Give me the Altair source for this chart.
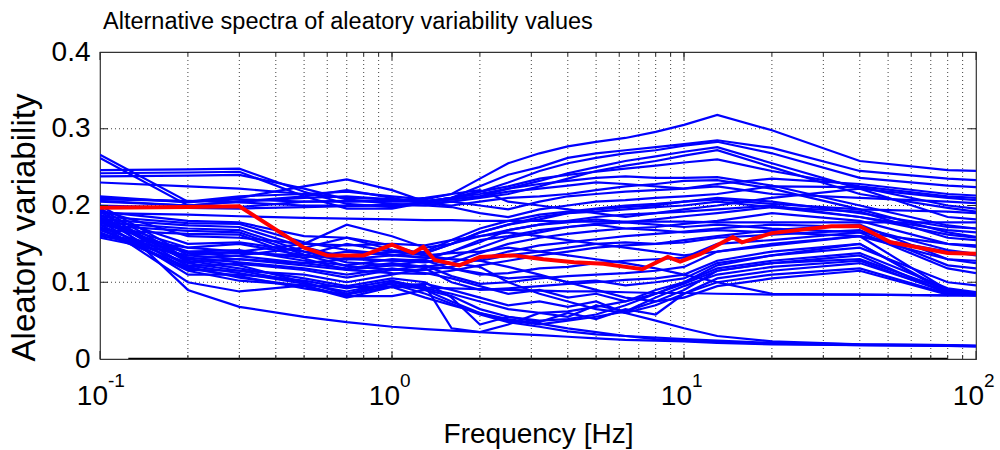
import altair as alt
import pandas as pd

FONT = "Liberation Sans"

# Frequency grid shared by the blue spectra [Hz]
FREQ = [0.1, 0.2, 0.3, 0.5, 0.7, 1.0, 1.3, 1.6, 2.0, 2.5, 3.2, 4.0, 5.0, 6.3, 8.0, 10, 13, 20, 40, 80, 100]

S01 = [0.266,0.205,0.212,0.215,0.218,0.212,0.208,0.215,0.235,0.255,0.268,0.277,0.283,0.288,0.296,0.305,0.318,0.298,0.258,0.246,0.245]
S02 = [0.262,0.200,0.205,0.210,0.212,0.208,0.205,0.210,0.225,0.240,0.250,0.262,0.268,0.272,0.276,0.280,0.285,0.275,0.245,0.235,0.233]
S03 = [0.246,0.247,0.248,0.218,0.202,0.198,0.205,0.210,0.218,0.230,0.245,0.255,0.262,0.268,0.272,0.278,0.283,0.268,0.236,0.226,0.224]
S04 = [0.242,0.243,0.244,0.212,0.196,0.196,0.204,0.208,0.212,0.222,0.232,0.242,0.250,0.258,0.264,0.270,0.276,0.255,0.222,0.210,0.207]
S05 = [0.238,0.239,0.240,0.222,0.208,0.202,0.200,0.205,0.210,0.215,0.225,0.235,0.245,0.252,0.258,0.265,0.272,0.250,0.215,0.197,0.192]
S06 = [0.212,0.204,0.210,0.225,0.234,0.220,0.205,0.210,0.215,0.222,0.228,0.232,0.236,0.238,0.236,0.236,0.237,0.226,0.200,0.174,0.170]
S07 = [0.206,0.200,0.205,0.212,0.220,0.210,0.202,0.200,0.205,0.210,0.212,0.215,0.220,0.225,0.228,0.232,0.233,0.222,0.195,0.165,0.159]
S08 = [0.190,0.188,0.186,0.184,0.183,0.182,0.181,0.181,0.180,0.180,0.180,0.179,0.179,0.179,0.179,0.179,0.178,0.178,0.178,0.178,0.178]
S09 = [0.208,0.206,0.204,0.200,0.200,0.201,0.203,0.205,0.200,0.195,0.205,0.212,0.215,0.218,0.220,0.222,0.228,0.235,0.228,0.215,0.213]
S10 = [0.200,0.197,0.196,0.198,0.199,0.200,0.200,0.198,0.190,0.185,0.195,0.200,0.205,0.207,0.210,0.212,0.215,0.225,0.224,0.200,0.196]
S11 = [0.192,0.180,0.178,0.160,0.158,0.142,0.138,0.150,0.165,0.175,0.182,0.190,0.195,0.198,0.200,0.205,0.210,0.205,0.190,0.172,0.170]
S12 = [0.186,0.177,0.176,0.152,0.142,0.136,0.132,0.140,0.152,0.168,0.175,0.180,0.185,0.188,0.190,0.192,0.195,0.200,0.185,0.162,0.158]
S13 = [0.182,0.174,0.172,0.146,0.132,0.128,0.126,0.132,0.145,0.158,0.165,0.172,0.176,0.178,0.182,0.186,0.190,0.198,0.192,0.158,0.155]
S14 = [0.178,0.170,0.168,0.140,0.126,0.122,0.120,0.125,0.138,0.150,0.158,0.163,0.167,0.170,0.172,0.176,0.180,0.190,0.180,0.150,0.146]
S15 = [0.174,0.167,0.165,0.136,0.121,0.116,0.116,0.120,0.130,0.140,0.148,0.152,0.156,0.160,0.163,0.166,0.170,0.175,0.172,0.142,0.137]
S16 = [0.168,0.163,0.162,0.131,0.116,0.112,0.111,0.115,0.122,0.128,0.135,0.140,0.145,0.148,0.150,0.155,0.160,0.168,0.175,0.130,0.125]
S17 = [0.200,0.135,0.140,0.150,0.175,0.160,0.145,0.150,0.160,0.168,0.175,0.178,0.182,0.178,0.175,0.172,0.175,0.170,0.165,0.150,0.148]
S18 = [0.196,0.130,0.135,0.145,0.158,0.148,0.135,0.130,0.128,0.135,0.140,0.145,0.150,0.152,0.150,0.152,0.158,0.162,0.168,0.122,0.118]
S19 = [0.192,0.126,0.130,0.122,0.116,0.122,0.128,0.118,0.110,0.112,0.118,0.120,0.125,0.128,0.130,0.132,0.150,0.155,0.165,0.118,0.112]
S20 = [0.188,0.121,0.124,0.116,0.106,0.116,0.122,0.108,0.098,0.100,0.105,0.108,0.110,0.112,0.115,0.120,0.140,0.148,0.160,0.090,0.086]
S21 = [0.184,0.116,0.115,0.110,0.100,0.110,0.118,0.100,0.090,0.092,0.095,0.098,0.100,0.103,0.105,0.110,0.128,0.140,0.150,0.086,0.084]
S22 = [0.180,0.110,0.110,0.102,0.092,0.102,0.092,0.085,0.075,0.065,0.060,0.062,0.068,0.075,0.085,0.100,0.122,0.135,0.150,0.088,0.085]
S23 = [0.176,0.100,0.088,0.096,0.082,0.082,0.090,0.082,0.065,0.055,0.050,0.052,0.058,0.070,0.085,0.098,0.115,0.125,0.135,0.085,0.084]
S24 = [0.198,0.090,0.068,0.055,0.048,0.042,0.039,0.037,0.035,0.033,0.031,0.029,0.027,0.025,0.024,0.023,0.021,0.019,0.018,0.017,0.016]
S25 = [0.170,0.115,0.102,0.096,0.094,0.094,0.093,0.092,0.091,0.090,0.089,0.088,0.088,0.087,0.086,0.086,0.085,0.084,0.084,0.083,0.083]
S26 = [0.172,0.130,0.122,0.100,0.085,0.100,0.090,0.075,0.060,0.050,0.045,0.050,0.055,0.062,0.075,0.090,0.115,0.125,0.130,0.090,0.085]
S27 = [0.168,0.125,0.115,0.100,0.085,0.098,0.085,0.072,0.058,0.048,0.042,0.036,0.032,0.030,0.028,0.026,0.024,0.021,0.019,0.018,0.017]
S28 = [0.165,0.120,0.106,0.095,0.080,0.094,0.080,0.070,0.060,0.052,0.046,0.040,0.035,0.030,0.026,0.024,0.022,0.020,0.018,0.017,0.017]
S29 = [0.178,0.140,0.142,0.128,0.122,0.130,0.128,0.125,0.120,0.100,0.085,0.075,0.065,0.060,0.070,0.085,0.100,0.110,0.118,0.085,0.083]
S30 = [0.180,0.145,0.150,0.135,0.130,0.135,0.132,0.130,0.128,0.120,0.110,0.100,0.090,0.080,0.075,0.080,0.095,0.105,0.115,0.084,0.083]
S31 = [0.205,0.200,0.198,0.205,0.206,0.205,0.205,0.210,0.218,0.225,0.235,0.240,0.244,0.248,0.252,0.256,0.260,0.245,0.225,0.212,0.210]
S32 = [0.230,0.225,0.222,0.215,0.210,0.208,0.206,0.208,0.212,0.218,0.222,0.226,0.230,0.228,0.225,0.222,0.225,0.215,0.210,0.205,0.203]
S33 = [0.160,0.140,0.138,0.135,0.150,0.140,0.138,0.150,0.165,0.175,0.185,0.190,0.192,0.195,0.198,0.200,0.205,0.198,0.185,0.168,0.165]
S34 = [0.162,0.145,0.140,0.132,0.140,0.135,0.140,0.155,0.170,0.180,0.188,0.192,0.196,0.200,0.202,0.205,0.208,0.202,0.195,0.192,0.190]
S35 = [0.158,0.135,0.130,0.125,0.130,0.128,0.130,0.140,0.155,0.160,0.168,0.172,0.175,0.170,0.168,0.165,0.168,0.165,0.160,0.140,0.135]
S36 = [0.185,0.128,0.118,0.105,0.095,0.105,0.100,0.080,0.045,0.055,0.048,0.060,0.052,0.065,0.058,0.085,0.105,0.115,0.125,0.088,0.085]
S37 = [0.175,0.122,0.112,0.098,0.088,0.100,0.095,0.040,0.035,0.045,0.060,0.055,0.070,0.062,0.080,0.095,0.110,0.120,0.128,0.086,0.084]
S38 = [0.170,0.118,0.108,0.092,0.084,0.095,0.098,0.090,0.080,0.070,0.075,0.068,0.075,0.060,0.050,0.040,0.030,0.023,0.019,0.018,0.017]
S39 = [0.182,0.132,0.126,0.118,0.110,0.118,0.112,0.105,0.095,0.085,0.090,0.080,0.085,0.075,0.090,0.100,0.118,0.128,0.138,0.092,0.087]
S40 = [0.178,0.138,0.134,0.125,0.118,0.125,0.120,0.118,0.112,0.105,0.108,0.100,0.102,0.096,0.100,0.105,0.125,0.135,0.145,0.100,0.096]
S41 = [0.188,0.150,0.152,0.140,0.135,0.140,0.135,0.138,0.140,0.145,0.140,0.135,0.130,0.125,0.118,0.110,0.100,0.085,0.084,0.083,0.083]
S42 = [0.194,0.160,0.158,0.150,0.148,0.150,0.148,0.155,0.160,0.165,0.160,0.155,0.150,0.145,0.140,0.135,0.140,0.150,0.160,0.130,0.128]
S43 = [0.210,0.205,0.208,0.205,0.205,0.206,0.210,0.215,0.220,0.205,0.200,0.195,0.190,0.185,0.190,0.195,0.200,0.210,0.222,0.185,0.182]

BLUE_SERIES = [S01, S02, S03, S04, S05, S06, S07, S08, S09, S10, S11, S12, S13, S14, S15,
               S16, S17, S18, S19, S20, S21, S22, S23, S24, S25, S26, S27, S28, S29, S30,
               S31, S32, S33, S34, S35, S36, S37, S38, S39, S40, S41, S42, S43]

# Highlighted (red) spectrum
RED_FREQ = [0.1, 0.2, 0.3, 0.5, 0.6, 0.8, 1.0, 1.18, 1.28, 1.4, 1.7, 2.0, 2.6, 3.3, 4.2, 5.3,
            7.2, 8.8, 9.7, 11.4, 14.7, 15.8, 20, 32, 40, 51, 80, 100]
RED_VALS = [0.197, 0.198, 0.199, 0.145, 0.135, 0.135, 0.149, 0.138, 0.146, 0.129, 0.122, 0.133,
            0.135, 0.130, 0.126, 0.124, 0.117, 0.133, 0.127, 0.137, 0.159, 0.152, 0.164, 0.173,
            0.173, 0.152, 0.138, 0.137]

# Zero line (black) along the bottom
ZERO_FREQ = [0.125, 80]
ZERO_VALS = [0.0, 0.0]

# Axis / grid positions
GRID_X = [0.2, 0.3, 0.4, 0.5, 0.6, 0.7, 0.8, 0.9, 1, 2, 3, 4, 5, 6, 7, 8, 9, 10,
          20, 30, 40, 50, 60, 70, 80, 90]
MAJOR_X = [0.1, 1, 10, 100]
MAJOR_EXP = ["-1", "0", "1", "2"]
GRID_Y = [0.1, 0.2, 0.3]
Y_TICKS = [0, 0.1, 0.2, 0.3, 0.4]
TITLE = "Alternative spectra of aleatory variability values"

W, H = 876, 307

blue_rows = []
for i, s in enumerate(BLUE_SERIES):
    for f, v in zip(FREQ, s):
        blue_rows.append({"series": f"s{i+1:02d}", "f": f, "v": v})
blue_df = pd.DataFrame(blue_rows)
red_df = pd.DataFrame({"f": RED_FREQ, "v": RED_VALS})
zero_df = pd.DataFrame({"f": ZERO_FREQ, "v": ZERO_VALS})

xs = alt.Scale(type="log", domain=[0.1, 100], nice=False)
ys = alt.Scale(domain=[0, 0.4], nice=False, zero=False)

x_axis = alt.Axis(values=MAJOR_X, labels=False, ticks=False, domain=False, grid=False,
                  title="Frequency [Hz]", titleFont=FONT, titleFontSize=28,
                  titleFontWeight="normal", titleColor="black",
                  titleX=438, titleY=83, titleAlign="center", titleBaseline="alphabetic")
y_axis = alt.Axis(values=Y_TICKS,
                  labelExpr="datum.value == 0 ? '0' : format(datum.value, '.1f')",
                  labelFont=FONT, labelFontSize=28, labelColor="black", labelPadding=10,
                  labelOverlap=False, labelFlush=False,
                  ticks=False, domain=False, grid=False,
                  title="Aleatory variability", titleFont=FONT, titleFontSize=33,
                  titleFontWeight="normal", titleColor="black",
                  titleX=-66, titleY=175, titleAlign="center", titleBaseline="alphabetic",
                  titleAngle=270)


def X(field="f"):
    return alt.X(f"{field}:Q", scale=xs, axis=x_axis, title="Frequency [Hz]")


def Y(field="v"):
    return alt.Y(f"{field}:Q", scale=ys, axis=y_axis, title="Aleatory variability")


gridx = alt.Chart(pd.DataFrame({"f": GRID_X})).mark_rule(
    color="black", strokeDash=[1, 3], strokeWidth=1, opacity=0.75
).encode(x=X())
gridy = alt.Chart(pd.DataFrame({"v": GRID_Y})).mark_rule(
    color="black", strokeDash=[1, 3], strokeWidth=1, opacity=0.75
).encode(y=Y())

zero_line = alt.Chart(zero_df).mark_line(color="black", strokeWidth=2.5, clip=True).encode(
    x=X(), y=Y())

blue = alt.Chart(blue_df).mark_line(color="#0000ff", strokeWidth=2.2, clip=True).encode(
    x=X(), y=Y(), detail="series:N", order="f:Q")
red = alt.Chart(red_df).mark_line(color="#ff0000", strokeWidth=4, clip=True).encode(
    x=X(), y=Y(), order="f:Q")

# inward tick marks (MATLAB-like box axes)
xt_df = pd.DataFrame({"f": MAJOR_X})
xminor_df = pd.DataFrame({"f": GRID_X})
yt_df = pd.DataFrame({"v": GRID_Y})
tick_style = dict(color="#222222", strokeWidth=1)
xt_bot = alt.Chart(xt_df).mark_rule(**tick_style).encode(
    x=X(), y=alt.value(H), y2=alt.value(H - 8))
xt_top = alt.Chart(xt_df).mark_rule(**tick_style).encode(
    x=X(), y=alt.value(0), y2=alt.value(8))
xm_bot = alt.Chart(xminor_df).mark_rule(**tick_style).encode(
    x=X(), y=alt.value(H), y2=alt.value(H - 4))
xm_top = alt.Chart(xminor_df).mark_rule(**tick_style).encode(
    x=X(), y=alt.value(0), y2=alt.value(4))
yt_left = alt.Chart(yt_df).mark_rule(**tick_style).encode(
    y=Y(), x=alt.value(0), x2=alt.value(8))
yt_right = alt.Chart(yt_df).mark_rule(**tick_style).encode(
    y=Y(), x=alt.value(W), x2=alt.value(W - 8))

# x tick labels: 10 with superscript exponent
lab_df = pd.DataFrame({"f": MAJOR_X, "exp": MAJOR_EXP})
lab_base = alt.Chart(lab_df).mark_text(
    font=FONT, fontSize=28, color="black", align="right", baseline="alphabetic", dx=8
).encode(x=X(), y=alt.value(H + 46), text=alt.value("10"))
lab_exp = alt.Chart(lab_df).mark_text(
    font=FONT, fontSize=19, color="black", align="left", baseline="alphabetic", dx=8
).encode(x=X(), y=alt.value(H + 28), text="exp:N")

# chart title (top-left, above the box)
title_df = pd.DataFrame({"t": [TITLE]})
title_txt = alt.Chart(title_df).mark_text(
    font=FONT, fontSize=23.5, color="black", align="left", baseline="alphabetic"
).encode(x=alt.value(3), y=alt.value(-23), text="t:N")

chart = alt.layer(
    gridx, gridy, zero_line, blue, red,
    xt_bot, xt_top, xm_bot, xm_top, yt_left, yt_right,
    lab_base, lab_exp, title_txt,
).properties(
    width=W, height=H,
    autosize=alt.AutoSizeParams(type="none"),
    padding={"left": 100, "top": 52, "right": 24, "bottom": 91},
    background="white",
).configure_view(stroke="#333333", strokeWidth=1.2)

chart.save("out.html", embed_options={"renderer": "svg", "actions": False})
